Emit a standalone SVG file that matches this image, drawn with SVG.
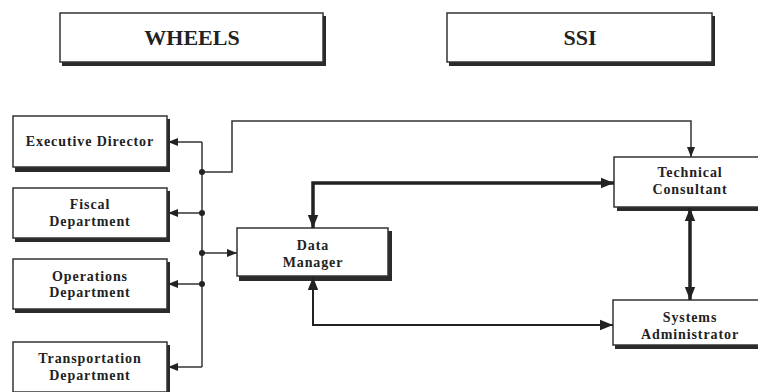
<svg xmlns="http://www.w3.org/2000/svg" width="758" height="392" viewBox="0 0 758 392">
<defs>
<marker id="ah" viewBox="0 0 10 10" refX="10" refY="5" markerWidth="10" markerHeight="10" markerUnits="userSpaceOnUse" orient="auto-start-reverse">
<path d="M0,1 L10,5 L0,9 Z" fill="#222"/>
</marker>
<marker id="ahb" viewBox="0 0 10 10" refX="10" refY="5" markerWidth="13" markerHeight="13" markerUnits="userSpaceOnUse" orient="auto-start-reverse">
<path d="M0,1 L10,5 L0,9 Z" fill="#222"/>
</marker>
</defs>
<style>
.box{fill:#fff;stroke:#333;stroke-width:1.5}
.sh{fill:#2a2a2a}
.t{font-family:"Liberation Serif",serif;font-weight:bold;font-size:14px;fill:#222;text-anchor:middle;letter-spacing:0.9px}
.tt{font-family:"Liberation Serif",serif;font-weight:bold;font-size:22px;fill:#222;text-anchor:middle}
.thin{fill:none;stroke:#333;stroke-width:1.5}
.med{fill:none;stroke:#222;stroke-width:2}
.thick{fill:none;stroke:#222;stroke-width:3.5}
.dot{fill:#222}
</style>
<rect width="758" height="392" fill="#fff"/>
<g id="wheels">
<rect class="sh" x="62" y="16" width="264" height="50"/>
<rect class="box" x="60" y="13" width="263" height="49"/>
<text class="tt" x="192" y="45">WHEELS</text>
</g>
<g id="ssi">
<rect class="sh" x="449" y="16" width="266" height="50"/>
<rect class="box" x="447" y="13" width="265" height="49"/>
<text class="tt" x="580" y="45">SSI</text>
</g>
<g id="exec">
<rect class="sh" x="15" y="119" width="155" height="53"/>
<rect class="box" x="13" y="116" width="154" height="51"/>
<text class="t" x="90" y="146">Executive Director</text>
</g>
<g id="fiscal">
<rect class="sh" x="15" y="191" width="155" height="51"/>
<rect class="box" x="13" y="188" width="154" height="50"/>
<text class="t" x="90" y="209">Fiscal</text>
<text class="t" x="90" y="226">Department</text>
</g>
<g id="operations">
<rect class="sh" x="15" y="262" width="155" height="51"/>
<rect class="box" x="13" y="259" width="154" height="50"/>
<text class="t" x="90" y="281">Operations</text>
<text class="t" x="90" y="297">Department</text>
</g>
<g id="transport">
<rect class="sh" x="15" y="345" width="155" height="51"/>
<rect class="box" x="13" y="342" width="154" height="50"/>
<text class="t" x="90" y="363">Transportation</text>
<text class="t" x="90" y="380">Department</text>
</g>
<g id="datamanager">
<rect class="sh" x="239" y="231" width="153" height="50"/>
<rect class="box" x="237" y="228" width="151" height="48"/>
<text class="t" x="313" y="250">Data</text>
<text class="t" x="313" y="267">Manager</text>
</g>
<g id="techconsultant">
<rect class="sh" x="617" y="160" width="160" height="51"/>
<rect class="box" x="614" y="157" width="160" height="50"/>
<text class="t" x="690" y="177">Technical</text>
<text class="t" x="690" y="194">Consultant</text>
</g>
<g id="sysadmin">
<rect class="sh" x="615" y="303" width="160" height="46"/>
<rect class="box" x="613" y="300" width="160" height="45"/>
<text class="t" x="690" y="322">Systems</text>
<text class="t" x="690" y="339">Administrator</text>
</g>
<g id="connectors">
<path class="thin" d="M202,142 V367"/>
<path class="thin" d="M202,142 H168" marker-end="url(#ah)"/>
<path class="thin" d="M202,213 H168" marker-end="url(#ah)"/>
<path class="thin" d="M202,284 H168" marker-end="url(#ah)"/>
<path class="thin" d="M202,367 H168" marker-end="url(#ah)"/>
<path class="thin" d="M202,253 H237" marker-end="url(#ah)"/>
<path class="thin" d="M202,172 H232 V121 H691 V157" marker-end="url(#ah)"/>
<circle class="dot" cx="202" cy="172" r="3"/>
<circle class="dot" cx="202" cy="213" r="3"/>
<circle class="dot" cx="202" cy="253" r="3"/>
<circle class="dot" cx="202" cy="284" r="3"/>
<path class="thick" d="M313,228 V183 H614" marker-start="url(#ahb)" marker-end="url(#ahb)"/>
<path class="thick" d="M690,208 V300" marker-start="url(#ahb)" marker-end="url(#ahb)"/>
<path class="med" d="M313,277 V325 H613" marker-start="url(#ahb)" marker-end="url(#ahb)"/>
</g>
</svg>
